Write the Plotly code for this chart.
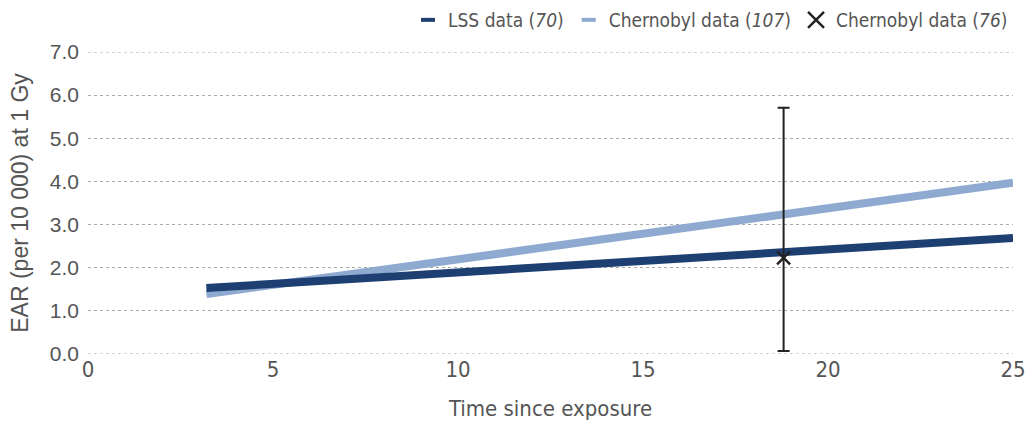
import plotly.graph_objects as go

# Data
lss_x = [3.2, 25]
lss_y = [1.53, 2.69]
cher_x = [3.2, 25]
cher_y = [1.39, 3.97]
point_x = [18.8]
point_y = [2.23]
err_plus = [5.71 - 2.23]
err_minus = [2.23 - 0.07]

x_ticks = [0, 5, 10, 15, 20, 25]
y_ticks = [0, 1, 2, 3, 4, 5, 6, 7]

LSS_COL = "#1e3f72"
CHER_COL = "#8eaad0"
TXT = "#555555"
NARROW = "DejaVu Sans Condensed, Liberation Sans Narrow, sans-serif"
REG = "Liberation Sans, Arial, sans-serif"

W, H = 1026, 421

fig = go.Figure()

fig.add_trace(go.Scatter(x=cher_x, y=cher_y, mode="lines",
                         line=dict(color=CHER_COL, width=8), showlegend=False, hoverinfo="skip"))
fig.add_trace(go.Scatter(x=lss_x, y=lss_y, mode="lines",
                         line=dict(color=LSS_COL, width=8), showlegend=False, hoverinfo="skip"))
fig.add_trace(go.Scatter(x=point_x, y=point_y, mode="markers",
                         marker=dict(symbol="x-thin-open", size=13, color="#222222",
                                     line=dict(color="#222222", width=2.5)),
                         error_y=dict(type="data", symmetric=False, array=err_plus,
                                      arrayminus=err_minus, color="#222222", thickness=2, width=6),
                         showlegend=False))

# Legend entries
fig.add_trace(go.Scatter(x=[None], y=[None], mode="markers", name="LSS data (<i>70</i>)",
                         marker=dict(symbol="line-ew-open", size=10, color=LSS_COL,
                                     line=dict(color=LSS_COL, width=4))))
fig.add_trace(go.Scatter(x=[None], y=[None], mode="markers", name="Chernobyl data (<i>107</i>)",
                         marker=dict(symbol="line-ew-open", size=10, color=CHER_COL,
                                     line=dict(color=CHER_COL, width=4))))
fig.add_trace(go.Scatter(x=[None], y=[None], mode="markers", name="Chernobyl data (<i>76</i>)",
                         marker=dict(symbol="x-thin-open", size=16, color="#222222",
                                     line=dict(color="#222222", width=2.5))))

# dotted lines at the range edges (plotly hides gridlines there)
for yv in (0, 7):
    fig.add_hline(y=yv, line=dict(color="#aaaaaa", width=1, dash="dot"), layer="below")

fig.update_layout(
    width=W, height=H,
    margin=dict(l=88, r=13, t=52, b=67, autoexpand=False),
    paper_bgcolor="white", plot_bgcolor="white",
    font=dict(family=NARROW, size=19, color=TXT),
    legend=dict(orientation="h", x=1.0, xanchor="right", xref="paper",
                y=1 - 20 / H, yanchor="middle", yref="container",
                font=dict(family=NARROW, size=19, color=TXT),
                itemwidth=30, tracegroupgap=0, bgcolor="rgba(0,0,0,0)"),
    xaxis=dict(range=[0, 25], tickvals=x_ticks, showgrid=False, zeroline=False,
               showline=False, ticks="", ticklabeloverflow="allow",
               tickfont=dict(family=NARROW, size=22, color=TXT),
               title=dict(text="Time since exposure", font=dict(family=NARROW, size=22, color=TXT), standoff=20)),
    yaxis=dict(range=[0, 7], tickvals=y_ticks, tickformat=".1f", showgrid=True,
               gridcolor="#aaaaaa", griddash="dot", gridwidth=1, zeroline=False,
               showline=False, ticks="", ticklabelstandoff=8,
               tickfont=dict(family=REG, size=21, color=TXT),
               title=dict(text="EAR (per 10 000) at 1 Gy",
                          font=dict(family=REG, size=23, color=TXT),
                          standoff=14)),
)

fig.write_html("out.html",
               config={"displayModeBar": False},
               post_script="document.body.style.margin='0';document.body.style.overflow='hidden';")
